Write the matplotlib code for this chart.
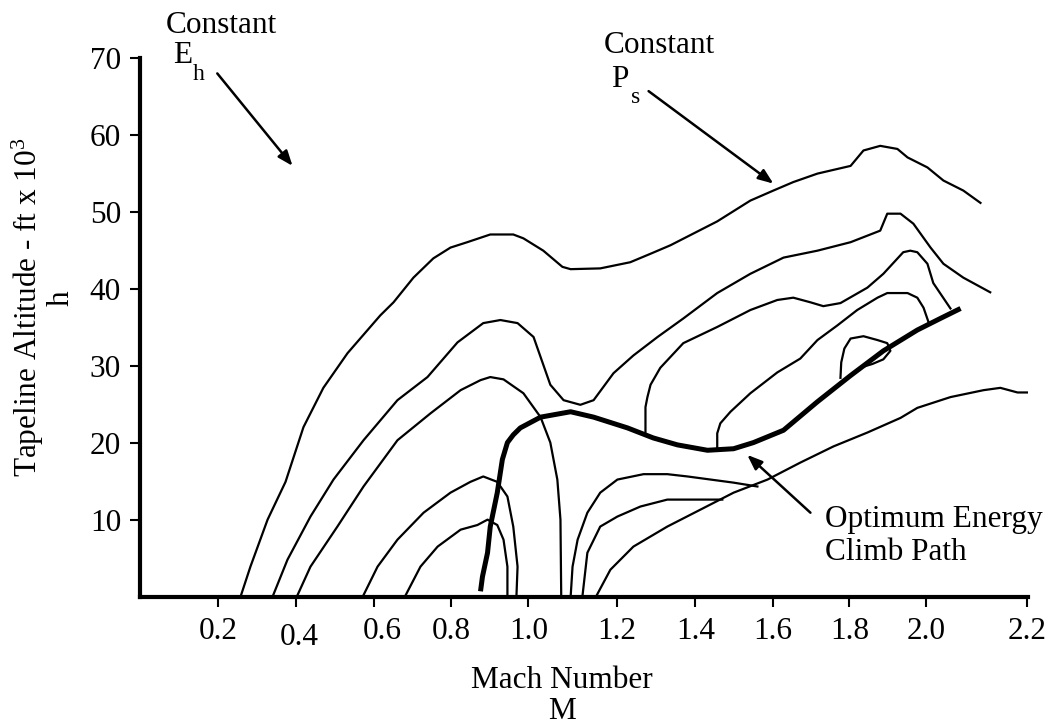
import matplotlib
matplotlib.use("Agg")
import matplotlib.pyplot as plt
from matplotlib.transforms import ScaledTranslation

plt.rcParams['font.family'] = ['Liberation Serif', 'DejaVu Serif']
plt.rcParams['mathtext.fontset'] = 'custom'
plt.rcParams['mathtext.rm'] = 'Liberation Serif'
plt.rcParams['mathtext.it'] = 'Liberation Serif:italic'

FS = 22.5
FS_SUB = 17

# Ps contours : Mach number / tapeline altitude (ft x 1000)
c1_mach = [0.256, 0.282, 0.326, 0.372, 0.418, 0.469, 0.531, 0.615, 0.649, 0.700, 0.751, 0.795,
           0.838, 0.897, 0.956, 0.982, 1.033, 1.082, 1.103, 1.179, 1.256, 1.308, 1.359, 1.479,
           1.564, 1.623, 1.674, 1.736, 1.821, 1.854, 1.897, 1.941, 1.967, 2.018, 2.059, 2.110, 2.154]
c1_alt = [0.0, 4.0, 10.1, 15.0, 22.1, 27.2, 31.7, 36.6, 38.3, 41.5, 44.0, 45.4,
          46.1, 47.1, 47.1, 46.6, 45.0, 42.9, 42.6, 42.7, 43.5, 44.6, 45.7, 48.8,
          51.5, 52.8, 53.9, 55.0, 56.0, 58.0, 58.6, 58.2, 57.1, 55.8, 54.1, 52.8, 51.2]

c2_mach = [0.338, 0.377, 0.436, 0.495, 0.572, 0.659, 0.736, 0.813, 0.879, 0.923, 0.967, 1.008,
           1.051, 1.085, 1.128, 1.162, 1.213, 1.264, 1.326, 1.392, 1.479, 1.564, 1.649, 1.736,
           1.821, 1.897, 1.915, 1.949, 1.982, 2.026, 2.059, 2.110, 2.179]
c2_alt = [0.0, 4.9, 10.5, 15.3, 20.4, 25.6, 28.6, 33.1, 35.6, 36.0, 35.6, 33.8,
          27.6, 25.6, 25.0, 25.6, 29.1, 31.4, 33.8, 36.2, 39.5, 42.0, 44.1, 45.0,
          46.1, 47.6, 49.8, 49.8, 48.5, 45.4, 43.3, 41.5, 39.6]

c3_mach = [0.400, 0.436, 0.505, 0.572, 0.659, 0.744, 0.821, 0.872, 0.897, 0.931, 0.982, 1.026,
           1.051, 1.069, 1.077, 1.079]
c3_alt = [0.0, 4.0, 9.2, 14.4, 20.4, 23.9, 26.9, 28.2, 28.6, 28.3, 26.5, 23.4,
          20.1, 15.3, 10.1, 0.0]

c4_mach = [0.569, 0.608, 0.659, 0.726, 0.795, 0.846, 0.879, 0.915, 0.941, 0.956, 0.967, 0.964]
c4_alt = [0.0, 4.0, 7.5, 11.0, 13.6, 15.0, 15.7, 15.0, 13.1, 9.2, 4.0, 0.0]

c5_mach = [0.677, 0.718, 0.762, 0.821, 0.864, 0.890, 0.915, 0.931, 0.941, 0.941]
c5_alt = [0.0, 4.0, 6.6, 8.8, 9.4, 10.1, 9.4, 7.5, 4.0, 0.0]

c6_mach = [1.103, 1.108, 1.121, 1.146, 1.179, 1.223, 1.290, 1.351, 1.403, 1.521, 1.582]
c6_alt = [0.0, 4.0, 7.5, 11.0, 13.6, 15.3, 16.0, 16.0, 15.7, 14.9, 14.4]

c7_mach = [1.133, 1.146, 1.179, 1.223, 1.282, 1.351, 1.403, 1.492]
c7_alt = [0.0, 5.8, 9.2, 10.5, 11.8, 12.7, 12.7, 12.7]

c8_mach = [1.167, 1.205, 1.264, 1.351, 1.436, 1.521, 1.608, 1.692, 1.777, 1.864, 1.949, 1.992,
           2.077, 2.162, 2.205, 2.249, 2.275]
c8_alt = [0.0, 3.6, 6.6, 9.2, 11.4, 13.6, 15.3, 17.5, 19.6, 21.4, 23.3, 24.6,
          26.0, 26.9, 27.2, 26.6, 26.6]

c9_mach = [1.295, 1.295, 1.300, 1.308, 1.333, 1.392, 1.479, 1.564, 1.633, 1.674, 1.718, 1.751,
           1.795, 1.864, 1.905, 1.956, 1.974, 1.992, 2.018, 2.033, 2.077]
c9_alt = [21.5, 24.7, 26.0, 27.6, 29.8, 33.0, 35.1, 37.3, 38.6, 38.9, 38.3, 37.8,
          38.2, 40.2, 42.0, 44.8, 45.0, 44.8, 43.3, 40.8, 37.5]

c10_mach = [1.479, 1.479, 1.487, 1.513, 1.564, 1.633, 1.692, 1.736, 1.787, 1.838, 1.890, 1.915,
            1.967, 1.992, 2.008, 2.021]
c10_alt = [19.1, 21.3, 22.6, 24.1, 26.5, 29.2, 31.0, 33.4, 35.3, 37.3, 38.9, 39.5,
           39.5, 38.9, 37.6, 35.7]

c11_mach = [1.795, 1.797, 1.805, 1.821, 1.854, 1.890, 1.915, 1.923, 1.905, 1.877, 1.851, 1.833]
c11_alt = [28.5, 30.5, 32.3, 33.6, 33.9, 33.4, 33.0, 32.0, 30.9, 30.3, 29.9, 29.2]

# optimum energy climb path
path_mach = [0.872, 0.877, 0.890, 0.897, 0.915, 0.928, 0.941, 0.956, 0.974, 1.026, 1.103, 1.162,
             1.249, 1.315, 1.377, 1.454, 1.521, 1.572, 1.649, 1.736, 1.821, 1.905, 1.992, 2.051, 2.103]
path_alt = [0.8, 2.7, 5.8, 9.2, 13.6, 17.9, 20.1, 21.1, 22.0, 23.4, 24.1, 23.4,
            22.0, 20.7, 19.8, 19.1, 19.3, 20.1, 21.7, 25.4, 28.8, 32.0, 34.7, 36.2, 37.5]

contours = [(c1_mach, c1_alt), (c2_mach, c2_alt), (c3_mach, c3_alt), (c4_mach, c4_alt),
            (c5_mach, c5_alt), (c6_mach, c6_alt), (c7_mach, c7_alt), (c8_mach, c8_alt),
            (c9_mach, c9_alt), (c10_mach, c10_alt), (c11_mach, c11_alt)]

# axis ticks (the original tick marks are not evenly spaced)
xtick_pos = [0.2, 0.4, 0.6, 0.797, 0.995, 1.221, 1.423, 1.621, 1.818, 2.015, 2.274]
xtick_labels = ["0.2", "0.4", "0.6", "0.8", "1.0", "1.2", "1.4", "1.6", "1.8", "2.0", "2.2"]
ytick_pos = [10, 20, 30, 40, 50, 60, 70]

fig = plt.figure(figsize=(10.45, 7.25), dpi=100)
ax = fig.add_axes([0.1344, 0.1759, 0.849, 0.7441])

for m, h in contours:
    ax.plot(m, h, color="black", lw=1.6)
ax.plot(path_mach, path_alt, color="black", lw=3.6, solid_capstyle="butt", zorder=5)

ax.set_xlim(0, 2.275)
ax.set_ylim(0, 70)
ax.spines["top"].set_visible(False)
ax.spines["right"].set_visible(False)
ax.spines["left"].set_linewidth(3)
ax.spines["bottom"].set_linewidth(3)
ax.tick_params(direction="out", length=7, width=1.5, pad=7, labelsize=FS)
ax.set_yticks(ytick_pos)
ax.set_xticks(xtick_pos, xtick_labels)

# a couple of hand-placed labels in the original sit off their ticks
lbls = ax.get_xticklabels()
lbls[1].set_transform(lbls[1].get_transform() + ScaledTranslation(0.03, -0.06, fig.dpi_scale_trans))
lbls[2].set_transform(lbls[2].get_transform() + ScaledTranslation(0.08, 0, fig.dpi_scale_trans))

# axis titles
fig.text(0.538, 1 - 680 / 725, "Mach Number", ha="center", va="center", fontsize=FS)
fig.text(0.538, 1 - 719 / 725, "M", ha="center", va="baseline", fontsize=FS)
fig.text(28 / 1045, 1 - 307 / 725, "Tapeline Altitude - ft x 10$^{3}$", rotation=90,
         ha="center", va="center", fontsize=FS)
fig.text(61 / 1045, 1 - 298 / 725, "h", rotation=90, ha="center", va="center", fontsize=FS)

# annotations
arrow = dict(arrowstyle="-|>,head_length=0.9,head_width=0.35", color="black", lw=1.8,
             shrinkA=0, shrinkB=0)
ax.text(0.208, 73.3, "Constant", ha="center", va="baseline", fontsize=FS, clip_on=False)
ax.text(0.085, 69.3, "E", ha="left", va="baseline", fontsize=FS, clip_on=False)
ax.text(0.135, 67.1, "h", ha="left", va="baseline", fontsize=FS_SUB, clip_on=False)
ax.annotate("", xy=(0.390, 56.0), xytext=(0.197, 68.0), arrowprops=arrow)

ax.text(1.330, 70.6, "Constant", ha="center", va="baseline", fontsize=FS, clip_on=False)
ax.text(1.206, 66.2, "P", ha="left", va="baseline", fontsize=FS, clip_on=False)
ax.text(1.258, 64.2, "s", ha="left", va="baseline", fontsize=FS_SUB, clip_on=False)
ax.annotate("", xy=(1.623, 53.7), xytext=(1.303, 65.7), arrowprops=arrow)

ax.text(1.756, 9.1, "Optimum Energy", ha="left", va="baseline", fontsize=FS)
ax.text(1.756, 4.9, "Climb Path", ha="left", va="baseline", fontsize=FS)
ax.annotate("", xy=(1.556, 18.5), xytext=(1.718, 11.0), arrowprops=arrow)

fig.savefig("out.png", dpi=100)
